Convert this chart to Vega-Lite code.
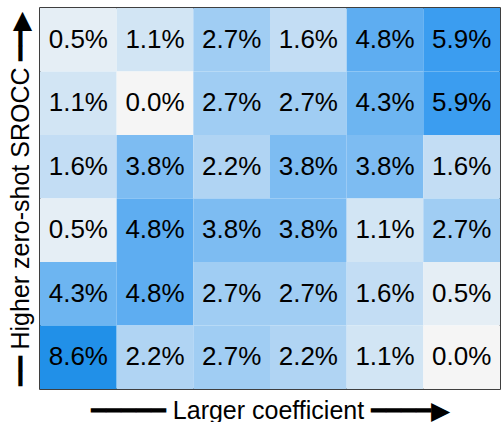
{
  "$schema": "https://vega.github.io/schema/vega-lite/v6.json",
  "width": 460,
  "height": 381,
  "autosize": "none",
  "padding": {"left": 40, "top": 8, "right": 1, "bottom": 33},
  "background": "white",
  "config": {"view": {"stroke": "black", "strokeWidth": 1.5}, "font": "Liberation Sans"},
  "data": {"values": [
    {"row": 1, "col": 1, "p": 0.005}, {"row": 1, "col": 2, "p": 0.011}, {"row": 1, "col": 3, "p": 0.027}, {"row": 1, "col": 4, "p": 0.016}, {"row": 1, "col": 5, "p": 0.048}, {"row": 1, "col": 6, "p": 0.059},
    {"row": 2, "col": 1, "p": 0.011}, {"row": 2, "col": 2, "p": 0.0}, {"row": 2, "col": 3, "p": 0.027}, {"row": 2, "col": 4, "p": 0.027}, {"row": 2, "col": 5, "p": 0.043}, {"row": 2, "col": 6, "p": 0.059},
    {"row": 3, "col": 1, "p": 0.016}, {"row": 3, "col": 2, "p": 0.038}, {"row": 3, "col": 3, "p": 0.022}, {"row": 3, "col": 4, "p": 0.038}, {"row": 3, "col": 5, "p": 0.038}, {"row": 3, "col": 6, "p": 0.016},
    {"row": 4, "col": 1, "p": 0.005}, {"row": 4, "col": 2, "p": 0.048}, {"row": 4, "col": 3, "p": 0.038}, {"row": 4, "col": 4, "p": 0.038}, {"row": 4, "col": 5, "p": 0.011}, {"row": 4, "col": 6, "p": 0.027},
    {"row": 5, "col": 1, "p": 0.043}, {"row": 5, "col": 2, "p": 0.048}, {"row": 5, "col": 3, "p": 0.027}, {"row": 5, "col": 4, "p": 0.027}, {"row": 5, "col": 5, "p": 0.016}, {"row": 5, "col": 6, "p": 0.005},
    {"row": 6, "col": 1, "p": 0.086}, {"row": 6, "col": 2, "p": 0.022}, {"row": 6, "col": 3, "p": 0.027}, {"row": 6, "col": 4, "p": 0.022}, {"row": 6, "col": 5, "p": 0.011}, {"row": 6, "col": 6, "p": 0.0}
  ]},
  "encoding": {
    "x": {"field": "col", "type": "ordinal", "scale": {"paddingInner": 0, "paddingOuter": 0},
      "axis": {"labels": false, "ticks": false, "domain": false, "title": "━━━━━ Larger coefficient ━━━━▶", "titleFont": "Liberation Sans", "titleFontSize": 25, "titleFontWeight": "normal", "titleColor": "black", "titleY": 21, "titleBaseline": "middle"}},
    "y": {"field": "row", "type": "ordinal", "scale": {"paddingInner": 0, "paddingOuter": 0},
      "axis": {"labels": false, "ticks": false, "domain": false, "title": "━━ Higher zero-shot SROCC ━━▶", "titleFont": "Liberation Sans", "titleFontSize": 25, "titleFontWeight": "normal", "titleColor": "black", "titleX": -20, "titleBaseline": "middle"}}
  },
  "layer": [
    {"mark": {"type": "rect"},
     "encoding": {"color": {"field": "p", "type": "quantitative", "legend": null,
       "scale": {"domain": [0, 0.059, 0.086], "range": ["#f5f5f5", "#3b9df0", "#2190e8"], "interpolate": "rgb"}}}},
    {"mark": {"type": "text", "font": "Liberation Sans", "fontSize": 26, "color": "black", "baseline": "middle"},
     "encoding": {"text": {"field": "p", "type": "quantitative", "format": ".1%"}}}
  ]
}
